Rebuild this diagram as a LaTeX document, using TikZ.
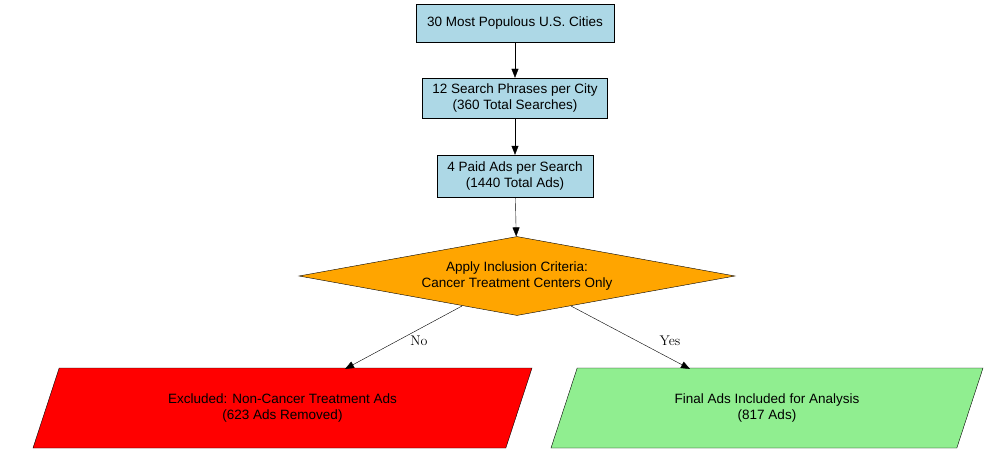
\documentclass[tikz,border=0pt]{standalone}
\usepackage{fontspec}
\setmainfont{Liberation Sans}
\usetikzlibrary{shapes.geometric,arrows.meta}
\begin{document}
\begin{tikzpicture}[x=1pt,y=-1pt,
 box/.style={draw,fill={rgb,255:red,173;green,216;blue,230},font=\fontsize{13.5}{15.5}\selectfont,align=center,inner sep=0pt},
 para/.style={draw,trapezium,trapezium left angle=47,trapezium right angle=133,trapezium stretches body,minimum height=80,font=\fontsize{13.5}{15.5}\selectfont,align=center,inner sep=0pt},
 arr/.style={-{Triangle[length=9,width=7]}},
 lab/.style={font=\fontfamily{lmr}\selectfont\fontsize{14}{16}\selectfont,inner sep=1pt}]
\useasboundingbox (0,0) rectangle (986,452);
\node[box,minimum width=198,minimum height=38] (a) at (515,23) {30 Most Populous U.S. Cities};
\node[box,minimum width=185,minimum height=40] (b) at (515,98) {12 Search Phrases per City\\(360 Total Searches)};
\node[box,minimum width=156,minimum height=42] (c) at (515,176) {4 Paid Ads per Search\\(1440 Total Ads)};
\node[draw,diamond,aspect=5.5,fill={rgb,255:red,255;green,165;blue,0},minimum width=436,minimum height=79,inner sep=0pt,align=center,font=\fontsize{13.5}{15.5}\selectfont] (d) at (517,276) {Apply Inclusion Criteria:\\Cancer Treatment Centers Only};
\node[para,fill=red,minimum width=499] (l) at (282.5,408) {Excluded: Non-Cancer Treatment Ads\\(623 Ads Removed)};
\node[para,fill={rgb,255:red,144;green,238;blue,144},minimum width=432] (r) at (767,408) {Final Ads Included for Analysis\\(817 Ads)};
\coordinate (dl) at (462,306);
\coordinate (dr) at (571,306);
\coordinate (lt) at (345,369);
\coordinate (rt) at (690,369);
\draw[arr] (a) -- (b);
\draw[arr] (b) -- (c);
\draw[arr] (c) -- (d);
\draw[arr] (dl) -- (lt);
\draw[arr] (dr) -- (rt);
\node[lab] (no) at (419,341) {No};
\node[lab] (yes) at (670,341) {Yes};
\end{tikzpicture}
\end{document}
